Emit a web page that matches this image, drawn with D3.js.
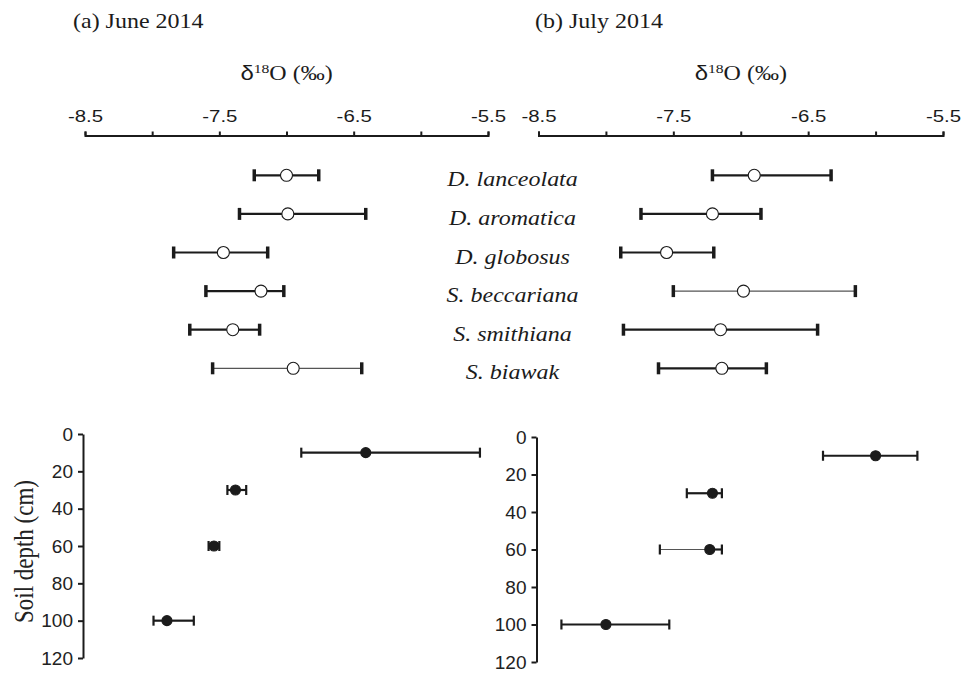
<!DOCTYPE html>
<html>
<head>
<meta charset="utf-8">
<script src="https://cdn.jsdelivr.net/npm/d3@7"></script>
<style>
  body { margin: 0; background: #fff; }
  svg { display: block; }
</style>
</head>
<body>
<div id="chart"></div>
<script>
// species isotope values (‰)
const species = ["D. lanceolata", "D. aromatica", "D. globosus", "S. beccariana", "S. smithiana", "S. biawak"];
const juneMean = [-7.0, -6.99, -7.47, -7.19, -7.4, -6.95];
const juneLow = [-7.24, -7.35, -7.84, -7.6, -7.72, -7.55];
const juneHigh = [-6.76, -6.41, -7.14, -7.02, -7.2, -6.44];
const juneThin = ["", "", "", "", "", "both"];
const julyMean = [-6.9, -7.21, -7.55, -6.98, -7.15, -7.14];
const julyLow = [-7.21, -7.74, -7.89, -7.5, -7.87, -7.61];
const julyHigh = [-6.33, -6.85, -7.2, -6.15, -6.43, -6.81];
const julyThin = ["", "", "", "both", "", ""];

// soil water by depth (cm)
const depths = [10, 30, 60, 100];
const soilJuneMean = [-6.41, -7.38, -7.54, -7.89];
const soilJuneLow = [-6.89, -7.44, -7.58, -7.99];
const soilJuneHigh = [-5.56, -7.3, -7.5, -7.69];
const soilJuneThin = ["", "", "", ""];
const soilJulyMean = [-6.0, -7.21, -7.23, -8.0];
const soilJulyLow = [-6.39, -7.4, -7.6, -8.33];
const soilJulyHigh = [-5.69, -7.14, -7.14, -7.53];
const soilJulyThin = ["", "", "low", ""];

const isoTicks = [-8.5, -8, -7.5, -7, -6.5, -6, -5.5];
const isoLabels = [-8.5, -7.5, -6.5, -5.5];
const depthTicks = [0, 20, 40, 60, 80, 100, 120];

const width = 962, height = 675;
const SX = 1.2; // the figure is a bit stretched sideways
const ink = "#1b1b1b";
const serif = "'Liberation Serif', 'Times New Roman', serif";
const sans = "'Liberation Sans', Arial, sans-serif";

const svg = d3.select("#chart").append("svg")
  .attr("width", width).attr("height", height);

const panels = [
  { title: "(a) June 2014", x0: 85, x1: 488, mean: juneMean, low: juneLow, high: juneHigh, thin: juneThin,
    sMean: soilJuneMean, sLow: soilJuneLow, sHigh: soilJuneHigh, sThin: soilJuneThin, yTop: 434, yBot: 658, titleX: 73 },
  { title: "(b) July 2014", x0: 538.5, x1: 943, mean: julyMean, low: julyLow, high: julyHigh, thin: julyThin,
    sMean: soilJulyMean, sLow: soilJulyLow, sHigh: soilJulyHigh, sThin: soilJulyThin, yTop: 437, yBot: 662, titleX: 535 }
];

const rowScale = d3.scalePoint().domain(species).range([175.3, 368.3]);

function stretched(sel, x, y) {
  return sel.attr("transform", `translate(${x},${y}) scale(${SX},1)`);
}

function drawBars(g, yPos, xScale, d, opts) {
  const y = yPos;
  const lo = xScale(d.low), hi = xScale(d.high), m = xScale(d.mean);
  const thinL = d.thin === "both" || d.thin === "low";
  const thinR = d.thin === "both" || d.thin === "high";
  g.append("line").attr("x1", lo).attr("x2", m).attr("y1", y).attr("y2", y)
    .attr("stroke", thinL ? "#555" : ink).attr("stroke-width", thinL ? 1.2 : 2.2);
  g.append("line").attr("x1", m).attr("x2", hi).attr("y1", y).attr("y2", y)
    .attr("stroke", thinR ? "#555" : ink).attr("stroke-width", thinR ? 1.2 : 2.2);
  [lo, hi].forEach((cx) => {
    g.append("line").attr("x1", cx).attr("x2", cx)
      .attr("y1", y - opts.capH / 2).attr("y2", y + opts.capH / 2)
      .attr("stroke", ink).attr("stroke-width", opts.capW);
  });
  g.append("circle").attr("cx", m).attr("cy", y).attr("r", opts.r)
    .attr("fill", opts.fill).attr("stroke", ink).attr("stroke-width", 1.1);
}

panels.forEach((p) => {
  const x = d3.scaleLinear().domain([-8.5, -5.5]).range([p.x0, p.x1]);
  const g = svg.append("g");

  // panel title
  stretched(g.append("text"), p.titleX, 28)
    .attr("font-family", serif).attr("font-size", 20).attr("fill", ink)
    .text(p.title);

  // axis title δ18O (‰)
  const t = stretched(g.append("text"), (p.x0 + p.x1) / 2, 80)
    .attr("text-anchor", "middle").attr("fill", ink)
    .attr("font-family", serif).attr("font-size", 20);
  t.append("tspan").attr("font-family", sans).text("δ");
  t.append("tspan").attr("font-size", 13).attr("dy", -7).text("18");
  t.append("tspan").attr("dy", 7).text("O (‰)");

  // top isotope axis
  const axis = d3.axisTop(x).tickValues(isoTicks).tickSize(4).tickSizeOuter(4).tickPadding(9.5)
    .tickFormat((v) => (isoLabels.includes(v) ? v.toFixed(1) : ""));
  const ax = g.append("g").attr("transform", "translate(0,135.5)").call(axis);
  ax.select(".domain").attr("stroke", ink).attr("stroke-width", 2);
  ax.selectAll(".tick line").attr("stroke", ink).attr("stroke-width", 2);
  ax.selectAll(".tick text").attr("font-family", sans).attr("font-size", 17)
    .attr("fill", ink).attr("transform", `scale(${SX},1)`);

  // species error bars
  species.forEach((s, i) => {
    drawBars(g, rowScale(s), x,
      { mean: p.mean[i], low: p.low[i], high: p.high[i], thin: p.thin[i] },
      { r: 6, fill: "#fff", capH: 12, capW: 3.5 });
  });

  // soil depth axis
  const yD = d3.scaleLinear().domain([0, 120]).range([p.yTop, p.yBot]);
  const yAxis = d3.axisLeft(yD).tickValues(depthTicks).tickSize(5).tickSizeOuter(0).tickPadding(5);
  const ay = g.append("g").attr("transform", `translate(${p.x0 - 2},0)`).call(yAxis);
  ay.select(".domain").attr("stroke", ink).attr("stroke-width", 2);
  ay.selectAll(".tick line").attr("stroke", ink).attr("stroke-width", 2);
  ay.selectAll(".tick text").attr("font-family", sans).attr("font-size", 19).attr("fill", "#222");

  depths.forEach((dp, i) => {
    drawBars(g, yD(dp), x,
      { mean: p.sMean[i], low: p.sLow[i], high: p.sHigh[i], thin: p.sThin[i] },
      { r: 5, fill: ink, capH: 10, capW: 2.2 });
  });
});

// species names between the panels
species.forEach((s) => {
  stretched(svg.append("text"), 512.5, rowScale(s) + 11)
    .attr("text-anchor", "middle").attr("font-family", serif)
    .attr("font-style", "italic").attr("font-size", 20).attr("fill", ink)
    .text(s);
});

// y axis title
svg.append("text")
  .attr("transform", `translate(33,551.5) scale(${SX},1) rotate(-90)`)
  .attr("text-anchor", "middle").attr("font-family", serif)
  .attr("font-size", 23).attr("fill", "#222")
  .text("Soil depth (cm)");
</script>
</body>
</html>
